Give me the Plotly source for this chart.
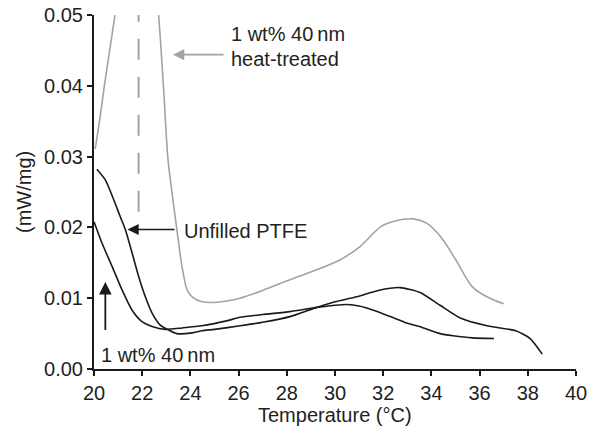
import plotly.graph_objects as go

# Heat-treated 1 wt% 40 nm (gray)
heat_x = [20.05, 20.25, 20.43, 20.65, 20.87, 21.1, 21.4, 21.8, 22.2, 22.5, 22.68, 22.88,
          23.07, 23.24, 23.44, 23.65, 23.86, 24.07, 24.48, 25.0, 25.5, 26.06, 27.0, 28.13,
          29.0, 30.2, 31.04, 31.9, 32.5, 33.25, 33.8, 34.4, 35.0, 35.7, 36.3, 37.0]
heat_y = [0.0311, 0.0355, 0.0400, 0.0450, 0.0500, 0.0560, 0.0640, 0.0700, 0.0640, 0.0560, 0.0500, 0.0400,
          0.0296, 0.0248, 0.0197, 0.0145, 0.0112, 0.0102, 0.0095, 0.0094, 0.0096, 0.0100, 0.0111, 0.0126,
          0.0137, 0.0154, 0.0173, 0.0201, 0.0209, 0.0212, 0.0206, 0.0186, 0.0155, 0.0116, 0.0102, 0.0092]

# 1 wt% 40 nm (black, starts ~0.021)
filled_x = [20.0, 20.33, 20.75, 21.16, 21.58, 21.99, 22.41, 22.96, 23.65, 24.48, 25.5, 26.06,
            27.0, 28.13, 29.24, 30.0, 30.5, 31.0, 31.6, 32.3, 32.97, 33.5, 34.36, 34.9, 35.7, 36.6]
filled_y = [0.0208, 0.0178, 0.0145, 0.0112, 0.0083, 0.0067, 0.0060, 0.0056, 0.0058, 0.0061, 0.0068, 0.0073,
            0.0077, 0.0081, 0.0087, 0.0090, 0.0091, 0.0089, 0.0083, 0.0074, 0.0065, 0.0060, 0.0050, 0.0047, 0.0044, 0.0043]

# Unfilled PTFE (black, starts ~0.028)
unfilled_x = [20.12, 20.47, 20.82, 21.09, 21.3, 21.58, 21.85, 22.13, 22.41, 22.75, 23.1, 23.44,
              24.07, 24.48, 25.0, 26.06, 27.0, 28.13, 29.24, 30.0, 30.9, 31.8, 32.7, 33.53,
              34.36, 35.2, 36.3, 37.5, 38.1, 38.6]
unfilled_y = [0.0282, 0.0267, 0.0239, 0.0215, 0.0197, 0.0164, 0.0131, 0.0102, 0.0079, 0.0062, 0.0055, 0.0050,
              0.0051, 0.0054, 0.0056, 0.0061, 0.0066, 0.0074, 0.0087, 0.0095, 0.0102, 0.0111, 0.0115, 0.0108,
              0.0090, 0.0072, 0.0061, 0.0054, 0.0043, 0.0021]

# Vertical dashed reference line
dash_x = [21.85, 21.85]
dash_y = [0.0222, 0.0520]

x_ticks = [20, 22, 24, 26, 28, 30, 32, 34, 36, 38, 40]
y_ticks = [0.00, 0.01, 0.02, 0.03, 0.04, 0.05]

GRAY = "#a3a3a3"
BLACK = "#1a1a1a"
TEXT = "#231f20"
FONT = "Liberation Sans, Arial, Helvetica, sans-serif"
FS = 20

fig = go.Figure()
fig.add_trace(go.Scatter(x=dash_x, y=dash_y, mode="lines",
                         line=dict(color=GRAY, width=2, dash="21px,17px"), hoverinfo="skip"))
fig.add_trace(go.Scatter(x=heat_x, y=heat_y, mode="lines",
                         line=dict(color=GRAY, width=1.6, shape="spline", smoothing=0.8)))
fig.add_trace(go.Scatter(x=filled_x, y=filled_y, mode="lines",
                         line=dict(color=BLACK, width=1.6, shape="spline", smoothing=0.6)))
fig.add_trace(go.Scatter(x=unfilled_x, y=unfilled_y, mode="lines",
                         line=dict(color=BLACK, width=1.6, shape="spline", smoothing=0.6)))

ann_font = dict(family=FONT, size=FS, color=TEXT)
annotations = [
    # gray arrow
    dict(x=23.28, y=0.0444, ax=25.44, ay=0.0444, xref="x", yref="y", axref="x", ayref="y",
         text="", showarrow=True, arrowhead=2, arrowsize=1.4, arrowwidth=1.6, arrowcolor=GRAY),
    dict(x=25.6, y=0.0473, xref="x", yref="y", text="1 wt% 40\u2009nm", showarrow=False,
         xanchor="left", yanchor="middle", font=ann_font),
    dict(x=25.6, y=0.0438, xref="x", yref="y", text="heat-treated", showarrow=False,
         xanchor="left", yanchor="middle", font=ann_font),
    # unfilled arrow
    dict(x=21.39, y=0.0197, ax=23.40, ay=0.0197, xref="x", yref="y", axref="x", ayref="y",
         text="", showarrow=True, arrowhead=2, arrowsize=1.4, arrowwidth=1.6, arrowcolor=BLACK),
    dict(x=23.65, y=0.0195, xref="x", yref="y", text="Unfilled PTFE", showarrow=False,
         xanchor="left", yanchor="middle", font=ann_font),
    # vertical arrow
    dict(x=20.47, y=0.0123, ax=20.47, ay=0.0053, xref="x", yref="y", axref="x", ayref="y",
         text="", showarrow=True, arrowhead=2, arrowsize=1.4, arrowwidth=1.8, arrowcolor=BLACK),
    dict(x=20.2, y=0.0020, xref="x", yref="y", text="1 wt% 40\u2009nm", showarrow=False,
         xanchor="left", yanchor="middle", font=ann_font),
    # axis titles
    dict(x=(24 - 94) / 482, y=0.5, xref="paper", yref="paper", text="(mW/mg)", textangle=-90,
         showarrow=False, xanchor="center", yanchor="middle", font=ann_font),
    dict(x=0.5, y=-(415 - 369) / 354, xref="paper", yref="paper", text="Temperature (°C)",
         showarrow=False, xanchor="center", yanchor="middle", font=ann_font),
]

fig.update_layout(
    width=590, height=432,
    margin=dict(l=94, r=14, t=15, b=63),
    paper_bgcolor="white", plot_bgcolor="white",
    showlegend=False,
    font=dict(family=FONT, size=FS, color=TEXT),
    annotations=annotations,
)
fig.update_xaxes(range=[20, 40], tickvals=x_ticks, ticktext=[str(v) for v in x_ticks],
                 showline=True, linecolor=BLACK, linewidth=2, ticks="outside", ticklen=5,
                 tickwidth=1.8, tickcolor=BLACK, showgrid=False, zeroline=False, automargin=False,
                 tickfont=dict(family=FONT, size=FS, color=TEXT))
fig.update_yaxes(range=[0, 0.05], tickvals=y_ticks, ticktext=[f"{v:.2f}" for v in y_ticks],
                 showline=True, linecolor=BLACK, linewidth=2, ticks="outside", ticklen=5,
                 tickwidth=1.8, tickcolor=BLACK, showgrid=False, zeroline=False, automargin=False,
                 tickfont=dict(family=FONT, size=FS, color=TEXT))

fig.write_html("out.html")
